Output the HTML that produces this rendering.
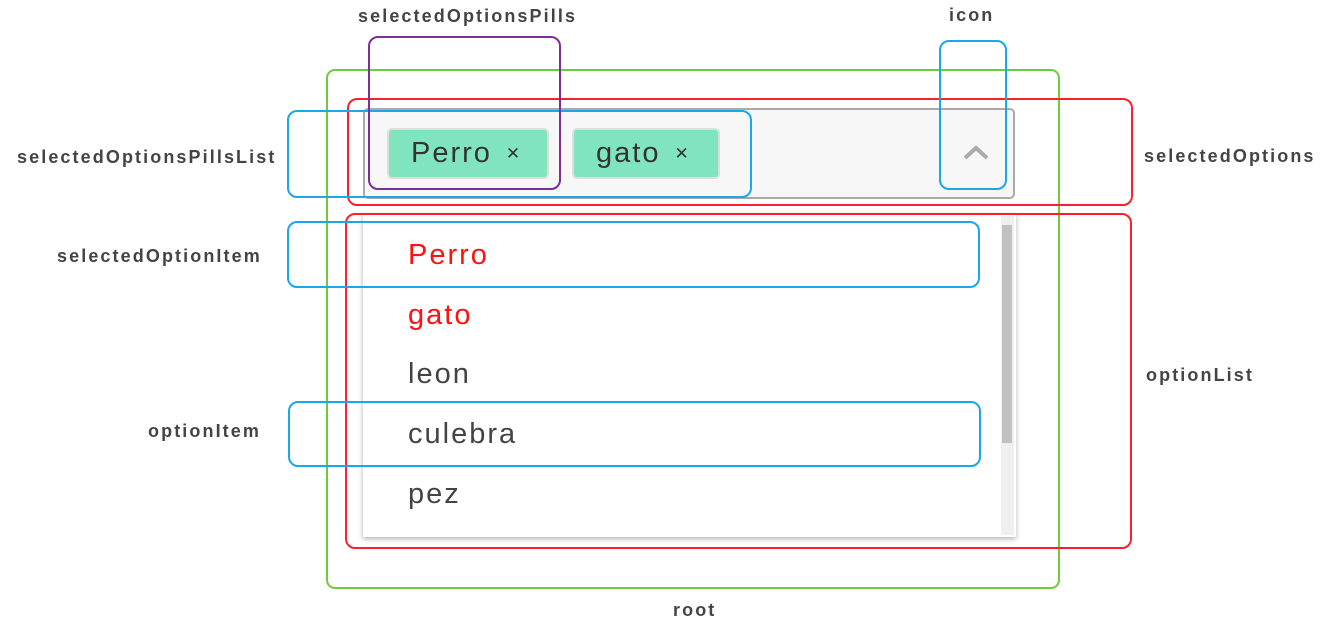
<!DOCTYPE html><html><head><style>
body{margin:0;width:1324px;height:626px;background:#fff;position:relative;overflow:hidden;font-family:"Liberation Sans",sans-serif}
div{position:absolute;box-sizing:border-box}
.lbl{font-size:18px;font-weight:bold;color:#444;white-space:nowrap;line-height:20px;letter-spacing:2.1px}
.b{border:2px solid #1aa7ec;border-radius:10px}
.r{border:2px solid #ff1f2d;border-radius:10px}
.it{left:408px;font-size:29px;color:#444;line-height:34px;letter-spacing:2px}
.pill{top:128px;height:51px;background:#80e5bf;border:2px solid #ddd;border-radius:5px;font-size:29px;color:#333;line-height:46px;padding-left:22px;letter-spacing:2px}
.pill span{font-size:17px;margin-left:14px;vertical-align:3px}
</style></head><body>
<div style="left:363px;top:108px;width:652px;height:91px;background:#f7f7f7;border:2px solid #aaa;border-radius:5px"></div>
<div class="pill" style="left:387px;width:162px">Perro<span>✕</span></div>
<div class="pill" style="left:572px;width:148px">gato<span>✕</span></div>
<svg style="position:absolute;left:962px;top:145px" width="28" height="16"><polyline points="3,13 14,3 25,13" fill="none" stroke="#aaa" stroke-width="4"/></svg>
<div style="left:363px;top:213px;width:653px;height:324px;background:#fff;box-shadow:0 2px 5px rgba(0,0,0,.3)"></div>
<div style="left:1001px;top:216px;width:13px;height:319px;background:#f0f0f0"></div>
<div style="left:1002px;top:225px;width:10px;height:218px;background:#c1c1c1"></div>
<div class="it" style="top:238px;color:#f11">Perro</div>
<div class="it" style="top:298px;color:#f11">gato</div>
<div class="it" style="top:357px">leon</div>
<div class="it" style="top:417px">culebra</div>
<div class="it" style="top:477px">pez</div>
<div style="left:326px;top:69px;width:734px;height:520px;border:2px solid #6dcc3a;border-radius:9px"></div>
<div class="r" style="left:347px;top:98px;width:786px;height:108px"></div>
<div class="r" style="left:345px;top:213px;width:787px;height:336px"></div>
<div class="b" style="left:287px;top:110px;width:465px;height:88px"></div>
<div style="left:368px;top:36px;width:193px;height:154px;border:2px solid #7b2e9c;border-radius:10px"></div>
<div class="b" style="left:939px;top:40px;width:68px;height:150px"></div>
<div class="b" style="left:287px;top:221px;width:693px;height:67px"></div>
<div class="b" style="left:288px;top:401px;width:693px;height:66px"></div>
<div class="lbl" style="left:358px;top:6px">selectedOptionsPills</div>
<div class="lbl" style="left:949px;top:5px">icon</div>
<div class="lbl" style="left:17px;top:147px">selectedOptionsPillsList</div>
<div class="lbl" style="left:57px;top:246px">selectedOptionItem</div>
<div class="lbl" style="left:148px;top:421px">optionItem</div>
<div class="lbl" style="left:1144px;top:146px">selectedOptions</div>
<div class="lbl" style="left:1146px;top:365px">optionList</div>
<div class="lbl" style="left:673px;top:600px">root</div>
</body></html>
